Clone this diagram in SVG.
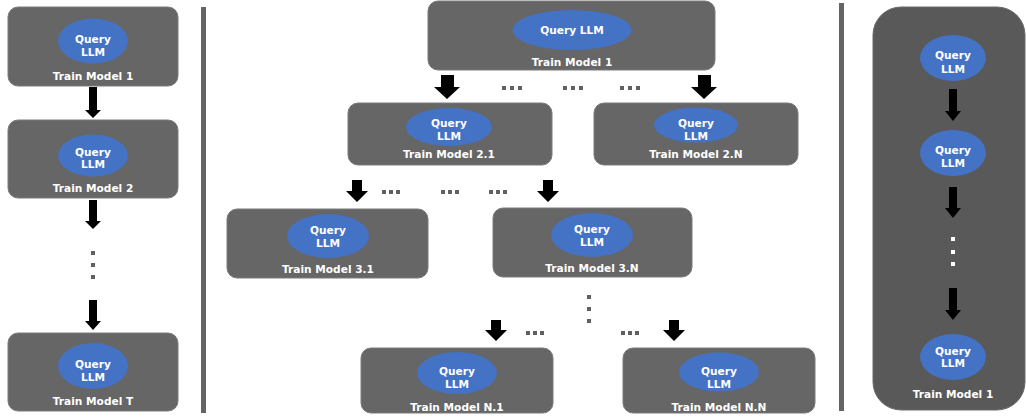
<svg xmlns="http://www.w3.org/2000/svg" width="1026" height="417" viewBox="0 0 1026 417">
<style>
.box{fill:#666666;stroke:#7a7a7a;stroke-width:1}
.panel{fill:#595959;stroke:#6a6a6a;stroke-width:1}
.ell{fill:#4472C4}
.t{font-family:"DejaVu Sans",Verdana,sans-serif;font-weight:bold;font-size:10.6px;fill:#ffffff;text-anchor:middle}
.arr{fill:#000000}
.dot{fill:#606060}
.wdot{fill:#ffffff}
.sep{fill:#646464}
</style>
<rect width="1026" height="417" fill="#ffffff"/>
<!-- separators -->
<rect class="sep" x="201" y="7" width="5" height="406"/>
<rect class="sep" x="839" y="3" width="5" height="408"/>

<!-- left column -->
<g id="L1">
<rect class="box" x="8" y="7" width="170" height="79" rx="10"/>
<ellipse class="ell" cx="93" cy="41" rx="35" ry="22.5"/>
<text class="t" x="93" y="42.5">Query</text><text class="t" x="93" y="55.5">LLM</text>
<text class="t" x="93" y="79.5">Train Model 1</text>
</g>
<g id="L2">
<rect class="box" x="8" y="120" width="170" height="78" rx="10"/>
<ellipse class="ell" cx="93" cy="155.5" rx="35" ry="21"/>
<text class="t" x="93" y="155.5">Query</text><text class="t" x="93" y="168">LLM</text>
<text class="t" x="93" y="191.5">Train Model 2</text>
</g>
<g id="LT">
<rect class="box" x="8" y="333" width="170" height="78" rx="10"/>
<ellipse class="ell" cx="93" cy="366" rx="35" ry="23"/>
<text class="t" x="93" y="367.5">Query</text><text class="t" x="93" y="380.5">LLM</text>
<text class="t" x="93" y="404.5">Train Model T</text>
</g>

<!-- middle -->
<g id="M1">
<rect class="box" x="428" y="1" width="287" height="69" rx="10"/>
<ellipse class="ell" cx="572" cy="30" rx="59.5" ry="20"/>
<text class="t" x="572" y="33.5">Query LLM</text>
<text class="t" x="572" y="65.5">Train Model 1</text>
</g>
<g id="M21">
<rect class="box" x="348" y="103" width="204" height="62" rx="10"/>
<ellipse class="ell" cx="449" cy="127" rx="43" ry="19"/>
<text class="t" x="449" y="126.5">Query</text><text class="t" x="449" y="139.5">LLM</text>
<text class="t" x="449" y="157.5">Train Model 2.1</text>
</g>
<g id="M2N">
<rect class="box" x="594" y="103" width="204" height="62" rx="10"/>
<ellipse class="ell" cx="696" cy="125" rx="42" ry="17.5"/>
<text class="t" x="696" y="126.5">Query</text><text class="t" x="696" y="139.5">LLM</text>
<text class="t" x="696" y="157.5">Train Model 2.N</text>
</g>
<g id="M31">
<rect class="box" x="227" y="209" width="201" height="69" rx="10"/>
<ellipse class="ell" cx="328" cy="236" rx="41" ry="22"/>
<text class="t" x="328" y="233.5">Query</text><text class="t" x="328" y="246.5">LLM</text>
<text class="t" x="328" y="272.5">Train Model 3.1</text>
</g>
<g id="M3N">
<rect class="box" x="493" y="208" width="199" height="69" rx="10"/>
<ellipse class="ell" cx="592" cy="235" rx="41" ry="22"/>
<text class="t" x="592" y="232.5">Query</text><text class="t" x="592" y="245.5">LLM</text>
<text class="t" x="592" y="271.5">Train Model 3.N</text>
</g>
<g id="MN1">
<rect class="box" x="361" y="348" width="192" height="65" rx="10"/>
<ellipse class="ell" cx="457" cy="373" rx="40" ry="21"/>
<text class="t" x="457" y="374.5">Query</text><text class="t" x="457" y="387.5">LLM</text>
<text class="t" x="457" y="410.5">Train Model N.1</text>
</g>
<g id="MNN">
<rect class="box" x="623" y="348" width="192" height="65" rx="10"/>
<ellipse class="ell" cx="719" cy="372" rx="40" ry="19.5"/>
<text class="t" x="719" y="374.5">Query</text><text class="t" x="719" y="387.5">LLM</text>
<text class="t" x="719" y="410.5">Train Model N.N</text>
</g>

<!-- right panel -->
<g id="R">
<rect class="panel" x="873" y="7" width="152" height="403" rx="28"/>
<ellipse class="ell" cx="953" cy="58" rx="33" ry="23"/>
<text class="t" x="953" y="58.5">Query</text><text class="t" x="953" y="72.5">LLM</text>
<ellipse class="ell" cx="953" cy="153" rx="33" ry="23"/>
<text class="t" x="953" y="153.5">Query</text><text class="t" x="953" y="166.5">LLM</text>
<ellipse class="ell" cx="953" cy="357" rx="33" ry="23"/>
<text class="t" x="953" y="354.5">Query</text><text class="t" x="953" y="366.5">LLM</text>
<text class="t" x="953" y="397.5">Train Model 1</text>
<rect class="wdot" x="951" y="237" width="4" height="4"/>
<rect class="wdot" x="951" y="250" width="4" height="4"/>
<rect class="wdot" x="951" y="262" width="4" height="4"/>
</g>

<!-- connectors -->
<g id="connectors">
<polygon class="arr" points="89,87 97,87 97,110 101,110 93,118 85,110 89,110"/>
<polygon class="arr" points="89,200 97,200 97,221 101,221 93,229 85,221 89,221"/>
<polygon class="arr" points="89,300 97,300 97,321 101,321 93,330 85,321 89,321"/>
<polygon class="arr" points="441,75 454,75 454,87 460,87 447,99 434,87 441,87"/>
<polygon class="arr" points="698,75 711,75 711,87 717,87 704,99 691,87 698,87"/>
<polygon class="arr" points="352,180 362,180 362,191 368,191 357,202 346,191 352,191"/>
<polygon class="arr" points="543,180 553,180 553,191 559,191 548,202 537,191 543,191"/>
<polygon class="arr" points="491,320 501,320 501,330 507,330 496,341 485,330 491,330"/>
<polygon class="arr" points="669,320 679,320 679,330 685,330 674,341 663,330 669,330"/>
<polygon class="arr" points="949,89 957,89 957,111 961,111 953,121 945,111 949,111"/>
<polygon class="arr" points="949,187 957,187 957,208 961,208 953,218 945,208 949,208"/>
<polygon class="arr" points="949,288 957,288 957,310 961,310 953,320 945,310 949,310"/>
</g>

<!-- ellipsis dots -->
<g id="dots">
<rect class="dot" x="91" y="251" width="4" height="4"/>
<rect class="dot" x="91" y="263" width="4" height="4"/>
<rect class="dot" x="91" y="275" width="4" height="4"/>

<rect class="dot" x="502" y="86" width="4" height="4"/><rect class="dot" x="510" y="86" width="4" height="4"/><rect class="dot" x="518" y="86" width="4" height="4"/>
<rect class="dot" x="563" y="86" width="4" height="4"/><rect class="dot" x="571" y="86" width="4" height="4"/><rect class="dot" x="579" y="86" width="4" height="4"/>
<rect class="dot" x="620" y="86" width="4" height="4"/><rect class="dot" x="628" y="86" width="4" height="4"/><rect class="dot" x="636" y="86" width="4" height="4"/>

<rect class="dot" x="382" y="190" width="4" height="4"/><rect class="dot" x="389" y="190" width="4" height="4"/><rect class="dot" x="396" y="190" width="4" height="4"/>
<rect class="dot" x="441" y="190" width="4" height="4"/><rect class="dot" x="448" y="190" width="4" height="4"/><rect class="dot" x="455" y="190" width="4" height="4"/>
<rect class="dot" x="489" y="190" width="4" height="4"/><rect class="dot" x="496" y="190" width="4" height="4"/><rect class="dot" x="503" y="190" width="4" height="4"/>

<rect class="dot" x="587" y="295" width="4" height="4"/>
<rect class="dot" x="587" y="307" width="4" height="4"/>
<rect class="dot" x="587" y="319" width="4" height="4"/>

<rect class="dot" x="526" y="331" width="4" height="4"/><rect class="dot" x="533" y="331" width="4" height="4"/><rect class="dot" x="540" y="331" width="4" height="4"/>
<rect class="dot" x="621" y="331" width="4" height="4"/><rect class="dot" x="628" y="331" width="4" height="4"/><rect class="dot" x="635" y="331" width="4" height="4"/>
</g>
</svg>
